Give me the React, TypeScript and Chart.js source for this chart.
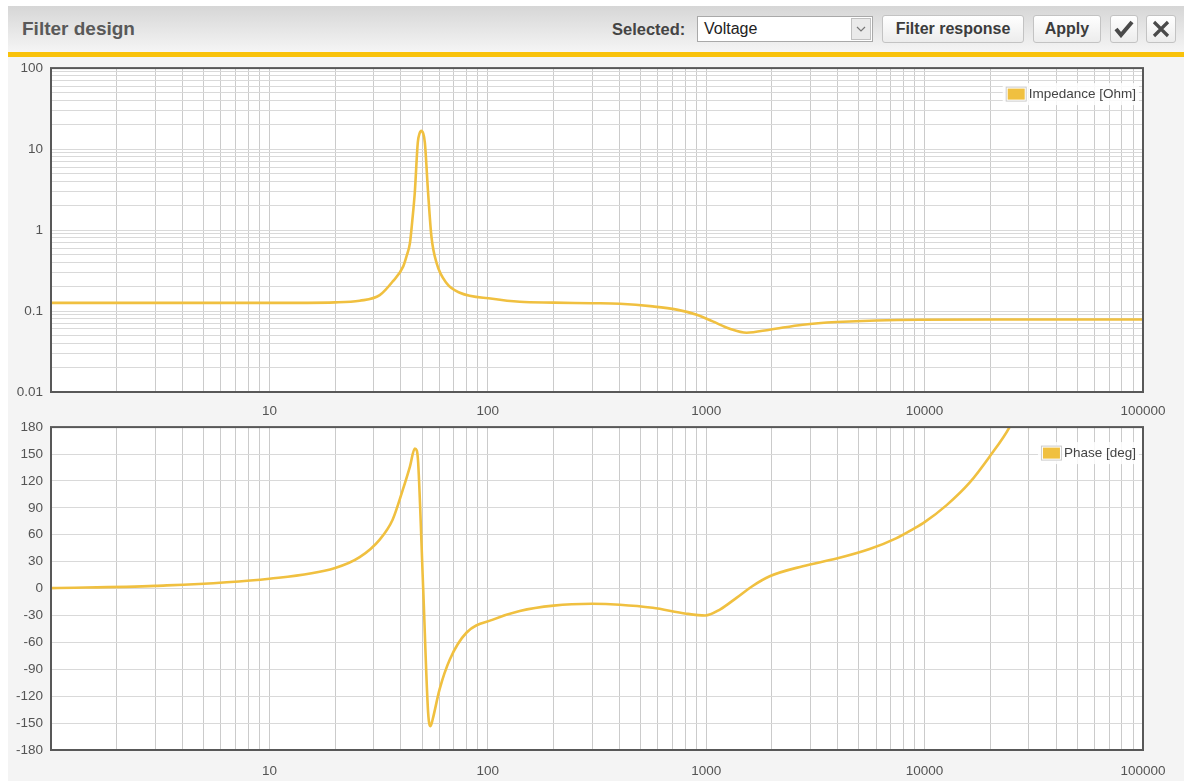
import React, { useEffect, useRef } from 'react';
import { Chart, registerables } from 'chart.js';

Chart.register(...registerables);

// ---- Data ----
const impedanceFreqHz = [
  1, 3, 10, 20, 25.9, 32, 36.7, 41, 42.5, 44, 45.1, 46.3, 47.8, 48.7, 49.6, 50.6, 51.5, 53.3, 55.2,
  58.3, 64.8, 74.5, 105, 140, 200, 300, 402, 569, 733, 905, 1071, 1282, 1532, 1953, 2768, 3956, 9490,
  30000, 100000,
];
const impedanceOhm = [
  0.126, 0.126, 0.126, 0.128, 0.134, 0.157, 0.232, 0.356, 0.48, 0.69, 1.3, 2.87, 12.0, 15.6, 16.8,
  15.6, 12.0, 2.87, 0.83, 0.39, 0.22, 0.168, 0.142, 0.13, 0.127, 0.125, 0.123, 0.114, 0.104, 0.09,
  0.0744, 0.0604, 0.054, 0.0588, 0.0678, 0.0731, 0.078, 0.0785, 0.0785,
];

const phaseFreqHz = [
  1, 3, 10, 20, 25.9, 32, 36.7, 40.8, 44, 46.3, 47.3, 48, 50.6, 53.3, 54.7, 55.9, 60.1, 67, 80, 105.6,
  140, 200, 300, 402, 569, 810, 989, 1155, 1376, 1625, 1953, 2768, 3956, 5600, 7400, 8810, 10000,
  12620, 16070, 19830, 24500, 28000,
];
const phaseDeg = [
  0.5, 3, 11, 23, 35, 54.6, 77, 110, 136, 156, 154, 140, 0, -138, -153.5, -146, -112.6, -79, -49,
  -34.6, -25, -19, -17, -18, -21.5, -28, -30, -23.4, -10.4, 2.6, 13.7, 24.9, 33.4, 44, 56, 66, 74,
  93, 118, 147, 180, 210,
];

const freqTickLabels = ['10', '100', '1000', '10000', '100000'];
const impedanceTickLabels = ['0.01', '0.1', '1', '10', '100'];
const phaseTickValues = [-180, -150, -120, -90, -60, -30, 0, 30, 60, 90, 120, 150, 180];

const impedanceLegend = 'Impedance [Ohm]';
const phaseLegend = 'Phase [deg]';

// ---- Styling ----
const FONT = "'Liberation Sans', Arial, sans-serif";
const LINE_COLOR = '#f0c040';
const TICK_COLOR = '#545454';
const GRID_X = '#cbcbcb';
const GRID_Y = '#d9d9d9';

function logTickValues(minExp: number, maxExp: number) {
  const out: number[] = [];
  for (let e = minExp; e < maxExp; e++) {
    for (let m = 1; m <= 9; m++) out.push(parseFloat((m * Math.pow(10, e)).toPrecision(6)));
  }
  out.push(parseFloat(Math.pow(10, maxExp).toPrecision(6)));
  return out;
}

function makeFramePlugin(label: string) {
  return {
    id: 'frame',
    beforeDraw(chart: any) {
      const { ctx, chartArea: a } = chart;
      ctx.save();
      ctx.fillStyle = '#ffffff';
      ctx.fillRect(a.left, a.top, a.right - a.left, a.bottom - a.top);
      ctx.restore();
    },
    afterDraw(chart: any) {
      const { ctx, chartArea: a } = chart;
      ctx.save();
      ctx.strokeStyle = '#585858';
      ctx.lineWidth = 2;
      ctx.strokeRect(a.left, a.top, a.right - a.left, a.bottom - a.top);
      // legend
      ctx.font = `13.5px ${FONT}`;
      const tw = ctx.measureText(label).width;
      const textRight = a.right - 7;
      const textLeft = textRight - tw;
      const cy = a.top + 26;
      const boxW = 21;
      const boxH = 15;
      const boxLeft = textLeft - 2 - boxW;
      ctx.fillStyle = 'rgba(255,255,255,0.85)';
      ctx.fillRect(boxLeft - 3, cy - 11, textRight - boxLeft + 6, 22);
      ctx.fillStyle = '#ffffff';
      ctx.fillRect(boxLeft, cy - boxH / 2, boxW, boxH);
      ctx.strokeStyle = '#cccccc';
      ctx.lineWidth = 1;
      ctx.strokeRect(boxLeft + 0.5, cy - boxH / 2 + 0.5, boxW - 1, boxH - 1);
      ctx.fillStyle = LINE_COLOR;
      ctx.fillRect(boxLeft + 2, cy - boxH / 2 + 2, boxW - 4, boxH - 4);
      ctx.fillStyle = '#444444';
      ctx.textBaseline = 'middle';
      ctx.textAlign = 'left';
      ctx.fillText(label, textLeft, cy + 0.5);
      ctx.restore();
    },
  };
}

function xAxis(height: number, pad: number) {
  return {
    type: 'logarithmic' as const,
    min: 1,
    max: 100000,
    afterBuildTicks: (scale: any) => {
      scale.ticks = logTickValues(0, 5).map((v) => ({ value: v }));
    },
    afterFit: (scale: any) => {
      scale.height = height;
    },
    ticks: {
      autoSkip: false,
      maxRotation: 0,
      minRotation: 0,
      padding: pad,
      color: TICK_COLOR,
      font: { family: FONT, size: 13.5 },
      callback: (v: any) => (freqTickLabels.includes(String(v)) ? String(v) : ''),
    },
    grid: { color: GRID_X, drawTicks: false, lineWidth: 1 },
    border: { display: false },
  };
}

function ImpedanceChart() {
  const ref = useRef<HTMLCanvasElement>(null);
  useEffect(() => {
    if (!ref.current) return;
    const chart = new Chart(ref.current, {
      type: 'line',
      data: {
        datasets: [
          {
            label: impedanceLegend,
            data: impedanceFreqHz.map((f, i) => ({ x: f, y: impedanceOhm[i] })),
            borderColor: LINE_COLOR,
            borderWidth: 2.6,
            pointRadius: 0,
            cubicInterpolationMode: 'monotone',
            fill: false,
          },
        ],
      },
      options: {
        animation: false,
        responsive: true,
        maintainAspectRatio: false,
        parsing: false as any,
        layout: { padding: { left: 0, right: 41, top: 0, bottom: 0 } },
        plugins: { legend: { display: false }, tooltip: { enabled: false } },
        scales: {
          x: xAxis(25, 11) as any,
          y: {
            type: 'logarithmic',
            min: 0.01,
            max: 100,
            afterBuildTicks: (scale: any) => {
              scale.ticks = logTickValues(-2, 2).map((v) => ({ value: v }));
            },
            afterFit: (scale: any) => {
              scale.width = 43;
            },
            ticks: {
              autoSkip: false,
              padding: 8,
              color: TICK_COLOR,
              font: { family: FONT, size: 13.5 },
              callback: (v: any) => (impedanceTickLabels.includes(String(v)) ? String(v) : ''),
            },
            grid: { color: GRID_Y, drawTicks: false, lineWidth: 1 },
            border: { display: false },
          } as any,
        },
      },
      plugins: [makeFramePlugin(impedanceLegend)],
    });
    return () => chart.destroy();
  }, []);
  return <canvas ref={ref} />;
}

function PhaseChart() {
  const ref = useRef<HTMLCanvasElement>(null);
  useEffect(() => {
    if (!ref.current) return;
    const chart = new Chart(ref.current, {
      type: 'line',
      data: {
        datasets: [
          {
            label: phaseLegend,
            data: phaseFreqHz.map((f, i) => ({ x: f, y: phaseDeg[i] })),
            borderColor: LINE_COLOR,
            borderWidth: 2.6,
            pointRadius: 0,
            cubicInterpolationMode: 'monotone',
            fill: false,
          },
        ],
      },
      options: {
        animation: false,
        responsive: true,
        maintainAspectRatio: false,
        parsing: false as any,
        layout: { padding: { left: 0, right: 41, top: 0, bottom: 0 } },
        plugins: { legend: { display: false }, tooltip: { enabled: false } },
        scales: {
          x: xAxis(31, 13) as any,
          y: {
            type: 'linear',
            min: -180,
            max: 180,
            afterBuildTicks: (scale: any) => {
              scale.ticks = phaseTickValues.map((v) => ({ value: v }));
            },
            afterFit: (scale: any) => {
              scale.width = 43;
            },
            ticks: {
              autoSkip: false,
              padding: 8,
              color: TICK_COLOR,
              font: { family: FONT, size: 13.5 },
              callback: (v: any) => String(v),
            },
            grid: { color: GRID_Y, drawTicks: false, lineWidth: 1 },
            border: { display: false },
          } as any,
        },
      },
      plugins: [makeFramePlugin(phaseLegend)],
    });
    return () => chart.destroy();
  }, []);
  return <canvas ref={ref} />;
}

const btn: React.CSSProperties = {
  position: 'absolute',
  top: 9,
  height: 28,
  boxSizing: 'border-box',
  border: '1px solid #c3c3c3',
  borderRadius: 3,
  background: 'linear-gradient(#ffffff, #ececec)',
  display: 'flex',
  alignItems: 'center',
  justifyContent: 'center',
  fontFamily: FONT,
  fontWeight: 'bold',
  fontSize: 16,
  color: '#3c3c3c',
};

export default function App() {
  return (
    <div
      style={{
        position: 'absolute',
        left: 8,
        top: 6,
        width: 1176,
        height: 775,
        fontFamily: FONT,
        overflow: 'hidden',
      }}
    >
      {/* header */}
      <div
        style={{
          position: 'absolute',
          left: 0,
          top: 0,
          width: 1176,
          height: 46,
          background: 'linear-gradient(#d6d6d6, #f5f5f5)',
        }}
      >
        <div
          style={{
            position: 'absolute',
            left: 14,
            top: 13,
            fontSize: 19,
            lineHeight: '19px',
            fontWeight: 'bold',
            color: '#595959',
          }}
        >
          Filter design
        </div>
        <div
          style={{
            position: 'absolute',
            left: 604,
            top: 9,
            height: 28,
            display: 'flex',
            alignItems: 'center',
            fontSize: 16.5,
            fontWeight: 'bold',
            color: '#444',
          }}
        >
          Selected:
        </div>
        <div
          style={{
            position: 'absolute',
            left: 689,
            top: 10,
            width: 176,
            height: 26,
            boxSizing: 'border-box',
            border: '1px solid #a9a9a9',
            background: '#fff',
            display: 'flex',
            alignItems: 'center',
            paddingLeft: 6,
            fontSize: 16,
            color: '#222',
          }}
        >
          Voltage
          <div
            style={{
              position: 'absolute',
              right: 1,
              top: 1,
              width: 20,
              height: 22,
              boxSizing: 'border-box',
              border: '1px solid #c0c0c0',
              background: '#eaeaea',
              display: 'flex',
              alignItems: 'center',
              justifyContent: 'center',
            }}
          >
            <svg width="10" height="6" viewBox="0 0 10 6">
              <path d="M1 1 L5 5 L9 1" fill="none" stroke="#777" strokeWidth="1.2" />
            </svg>
          </div>
        </div>
        <div style={{ ...btn, left: 874, width: 142 }}>Filter response</div>
        <div style={{ ...btn, left: 1025, width: 68 }}>Apply</div>
        <div style={{ ...btn, left: 1102, width: 28 }}>
          <svg width="20" height="18" viewBox="0 0 20 18">
            <path d="M2 9 L7 15 L18 2" fill="none" stroke="#4a4a4a" strokeWidth="4" strokeLinejoin="miter" />
          </svg>
        </div>
        <div style={{ ...btn, left: 1138, width: 30 }}>
          <svg width="18" height="18" viewBox="0 0 18 18">
            <path d="M2 2 L16 16 M16 2 L2 16" fill="none" stroke="#4a4a4a" strokeWidth="3.2" />
          </svg>
        </div>
      </div>
      {/* yellow bar */}
      <div style={{ position: 'absolute', left: 0, top: 46, width: 1176, height: 5, background: '#f9c20a' }} />
      {/* content */}
      <div style={{ position: 'absolute', left: 0, top: 51, width: 1176, height: 724, background: '#f4f4f4' }} />
      <div style={{ position: 'absolute', left: 0, top: 46, width: 1176, height: 365 }}>
        <ImpedanceChart />
      </div>
      <div style={{ position: 'absolute', left: 0, top: 405, width: 1176, height: 370 }}>
        <PhaseChart />
      </div>
    </div>
  );
}
